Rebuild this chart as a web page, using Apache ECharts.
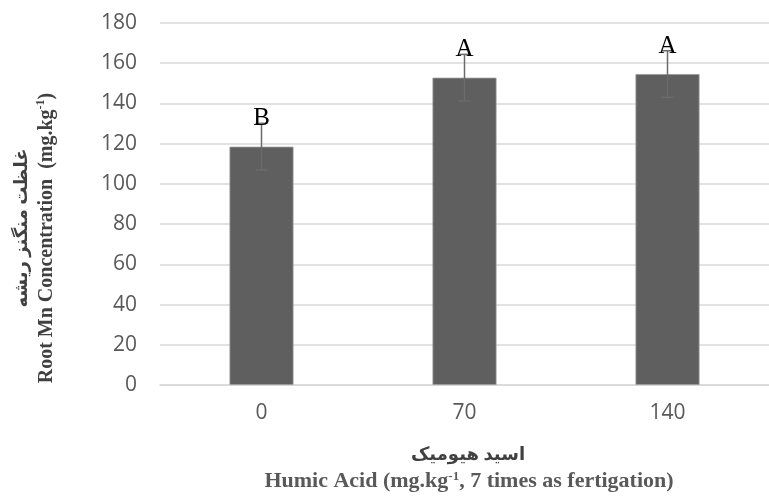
<!DOCTYPE html>
<html>
<head>
<meta charset="utf-8">
<script src="https://cdn.jsdelivr.net/npm/echarts@6/dist/echarts.min.js"></script>
<style>html,body{margin:0;padding:0;background:#fff}#c{width:769px;height:498px}</style>
</head>
<body>
<div id="c"></div>
<script>
var categories = ['0', '70', '140'];
var values = [118.5, 152.8, 154.6];
var errors = [11.6, 11.6, 11.6];
var letters = ['B', 'A', 'A'];
var yTicks = [0, 20, 40, 60, 80, 100, 120, 140, 160, 180];

var chart = echarts.init(document.getElementById('c'), null, {renderer: 'canvas'});
var errData = values.map(function (v, i) { return [i, v, errors[i], letters[i]]; });

chart.setOption({
  animation: false,
  grid: {left: 160, right: -7, top: 23, bottom: 113, containLabel: false},
  xAxis: {
    type: 'category', data: categories,
    axisLine: {show: true, lineStyle: {color: '#d9d9d9', width: 1.5}},
    axisTick: {show: false},
    axisLabel: {color: '#595959', fontSize: 21, fontFamily: 'Open Sans', margin: 18}
  },
  yAxis: {
    type: 'value', min: yTicks[0], max: yTicks[yTicks.length - 1], interval: 20,
    axisLine: {show: false}, axisTick: {show: false},
    splitLine: {lineStyle: {color: '#d9d9d9', width: 1.5}},
    axisLabel: {color: '#595959', fontSize: 21, fontFamily: 'Open Sans', margin: 23}
  },
  series: [
    {
      type: 'bar', data: values, barWidth: 64,
      itemStyle: {color: '#5f5f5f', borderColor: '#9a9a9a', borderWidth: 0.8}
    },
    {
      type: 'custom', data: errData, z: 10,
      renderItem: function (params, api) {
        var i = api.value(0), v = api.value(1), e = api.value(2);
        var top = api.coord([i, v + e]);
        var bot = api.coord([i, v - e]);
        var x = top[0];
        return {
          type: 'group',
          children: [
            {type: 'line', shape: {x1: x, y1: top[1], x2: x, y2: bot[1]}, style: {stroke: '#6b6b6b', lineWidth: 1.5}},
            {type: 'line', shape: {x1: x - 6, y1: bot[1], x2: x + 6, y2: bot[1]}, style: {stroke: '#6b6b6b', lineWidth: 1.5}},
            {type: 'line', shape: {x1: x - 6, y1: top[1], x2: x + 6, y2: top[1]}, style: {stroke: '#6b6b6b', lineWidth: 1.5}},
            {type: 'text', x: x, y: top[1] + 8, style: {text: letters[params.dataIndex], fill: '#000', font: '25px "Liberation Serif"', textAlign: 'center', textVerticalAlign: 'bottom'}}
          ]
        };
      }
    }
  ],
  graphic: [
    {
      type: 'text', x: 22, y: 228, rotation: Math.PI / 2,
      style: {text: 'غلظت منگنز ریشه', font: 'bold 18px "Liberation Serif", "DejaVu Sans"', fill: '#404040', textAlign: 'center', textVerticalAlign: 'middle'}
    },
    {
      type: 'text', x: 46, y: 238, rotation: Math.PI / 2,
      style: {
        text: '{m|Root Mn Concentration  (mg.kg}{s|-1}{m|)}',
        textAlign: 'center', textVerticalAlign: 'middle',
        rich: {
          m: {font: 'bold 20px "Liberation Serif"', fill: '#404040', lineHeight: 22, verticalAlign: 'bottom'},
          s: {font: 'bold 12px "Liberation Serif"', fill: '#404040', lineHeight: 22, verticalAlign: 'top'}
        }
      }
    },
    {
      type: 'text', x: 468, y: 455,
      style: {text: 'اسید هیومیک', font: 'bold 18px "Liberation Serif", "DejaVu Sans"', fill: '#404040', textAlign: 'center', textVerticalAlign: 'middle'}
    },
    {
      type: 'text', x: 469, y: 481,
      style: {
        text: '{m|Humic Acid (mg.kg}{s|-1}{m|, 7 times as fertigation)}',
        textAlign: 'center', textVerticalAlign: 'middle',
        rich: {
          m: {font: 'bold 22px "Liberation Serif"', fill: '#595959', lineHeight: 22, verticalAlign: 'bottom'},
          s: {font: 'bold 13px "Liberation Serif"', fill: '#595959', lineHeight: 22, verticalAlign: 'top'}
        }
      }
    }
  ]
});
</script>
</body>
</html>
